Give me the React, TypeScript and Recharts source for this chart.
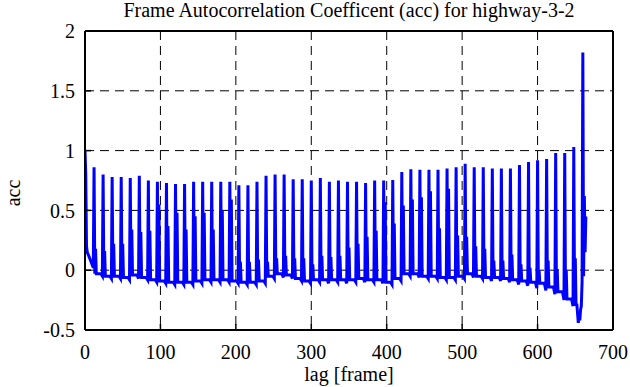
import React from "react";
import { LineChart, Line, XAxis, YAxis, CartesianGrid } from "recharts";

const TITLE = "Frame Autocorrelation Coefficent (acc) for highway-3-2";
const X_LABEL = "lag [frame]";
const Y_LABEL = "acc";

const X_TICKS = [0, 100, 200, 300, 400, 500, 600, 700];
const Y_TICKS = [-0.5, 0, 0.5, 1, 1.5, 2];

// the acc peaks every 12 frames (GOP length)
const PERIOD = 12;

// lags 0..11, before the first periodic peak
const HEAD_LAG = [0, 1, 2, 3, 5, 8, 11];
const HEAD_ACC = [1.0, 0.8, 0.2, 0.15, 0.12, 0.07, 0.02];

// peak value at lag 12, 24, ... 636
const SPIKE_ACC = [
  0.86, 0.8, 0.78, 0.78, 0.77, 0.79, 0.75, 0.74, 0.73, 0.72,
  0.72, 0.74, 0.74, 0.74, 0.74, 0.74, 0.71, 0.71, 0.74, 0.79,
  0.8, 0.8, 0.76, 0.76, 0.75, 0.77, 0.74, 0.75, 0.74, 0.74,
  0.73, 0.75, 0.75, 0.755, 0.82, 0.845, 0.84, 0.84, 0.84, 0.85,
  0.86, 0.89, 0.86, 0.86, 0.85, 0.85, 0.85, 0.88, 0.905, 0.92,
  0.93, 0.98, 0.98,
];

// smaller echo peak two frames after each main peak
const ECHO_ACC = [
  0.18, 0.16, 0.22, 0.22, 0.34, 0.32, 0.33, 0.55, 0.37, 0.48,
  0.34, 0.45, 0.48, 0.34, 0.5, 0.59, 0.07, 0.07, 0.09, 0.07,
  0.1, 0.12, 0.1, 0.1, 0.05, 0.12, 0.11, 0.12, 0.19, 0.22,
  0.28, 0.33, 0.57, 0.39, 0.54, 0.59, 0.61, 0.66, 0.35, 0.68,
  0.29, 0.28, 0.2, 0.18, 0.08, 0.08, 0.13, 0.05, 0.02, 0.0,
  0.08, 0.01, 0.0,
];

// baseline level between peaks
const FLOOR_ACC = [
  -0.03, -0.05, -0.05, -0.06, -0.04, -0.06, -0.08, -0.09, -0.1, -0.1,
  -0.1, -0.09, -0.08, -0.08, -0.08, -0.09, -0.1, -0.1, -0.09, -0.05,
  -0.03, -0.04, -0.07, -0.09, -0.08, -0.08, -0.08, -0.08, -0.08, -0.07,
  -0.08, -0.08, -0.1, -0.07, -0.03, -0.03, -0.05, -0.05, -0.06, -0.06,
  -0.05, -0.03, -0.05, -0.06, -0.06, -0.07, -0.08, -0.09, -0.1, -0.11,
  -0.14, -0.18, -0.24,
];

// small dip just before each next peak
const DIP_ACC = [
  -0.05, -0.07, -0.07, -0.08, -0.07, -0.08, -0.1, -0.11, -0.12, -0.12,
  -0.12, -0.11, -0.1, -0.1, -0.1, -0.11, -0.12, -0.12, -0.11, -0.07,
  -0.06, -0.07, -0.09, -0.11, -0.1, -0.11, -0.1, -0.11, -0.1, -0.1,
  -0.1, -0.11, -0.12, -0.09, -0.05, -0.06, -0.07, -0.07, -0.08, -0.08,
  -0.07, -0.06, -0.07, -0.09, -0.09, -0.1, -0.12, -0.13, -0.15, -0.17,
  -0.2, -0.25, -0.3,
];

// last stretch, 648..664
const TAIL_LAG = [648, 649, 650, 651, 652, 653, 654, 655, 656, 657, 658, 659, 660, 661, 662, 663, 664];
const TAIL_ACC = [1.03, -0.22, 0.1, -0.3, -0.28, -0.36, -0.44, -0.38, -0.42, -0.33, -0.3, -0.1, 1.82, -0.05, 0.62, 0.15, 0.45];

const series: { lag: number; acc: number }[] = [];
HEAD_LAG.forEach((lag, i) => series.push({ lag, acc: HEAD_ACC[i] }));
SPIKE_ACC.forEach((peak, i) => {
  const start = (i + 1) * PERIOD;
  series.push({ lag: start, acc: peak });
  series.push({ lag: start + 1, acc: FLOOR_ACC[i] });
  series.push({ lag: start + 2, acc: ECHO_ACC[i] });
  series.push({ lag: start + 3, acc: FLOOR_ACC[i] });
  series.push({ lag: start + 9, acc: FLOOR_ACC[i] });
  series.push({ lag: start + 11, acc: DIP_ACC[i] });
});
TAIL_LAG.forEach((lag, i) => series.push({ lag, acc: TAIL_ACC[i] }));

const font = "Liberation Serif, Nimbus Roman, Times, DejaVu Serif, serif";
const frame = { stroke: "#000", strokeWidth: 2 };
const tickLine = { stroke: "#000", strokeWidth: 1.5 };
const tickText = { fill: "#000", fontSize: 20, fontFamily: font };

export default function App() {
  return (
    <div
      style={{
        position: "absolute",
        left: 0,
        top: 0,
        width: 630,
        height: 387,
        background: "#fff",
        fontFamily: font,
        color: "#000",
      }}
    >
      <div style={{ position: "absolute", left: 85, top: 0, width: 528, textAlign: "center", fontSize: 20, lineHeight: "20px", whiteSpace: "nowrap" }}>
        {TITLE}
      </div>
      <LineChart width={630} height={387} data={series} margin={{ top: 0, right: 0, bottom: 0, left: 0 }}>
        <CartesianGrid stroke="#000" strokeDasharray="9 6" />
        <XAxis
          dataKey="lag"
          type="number"
          domain={[0, 700]}
          ticks={X_TICKS}
          interval={0}
          height={57}
          tickSize={-6}
          tickMargin={21}
          axisLine={frame}
          tickLine={tickLine}
          tick={tickText}
          allowDataOverflow
        />
        <XAxis
          xAxisId="top"
          orientation="top"
          type="number"
          domain={[0, 700]}
          ticks={X_TICKS}
          interval={0}
          height={31}
          tickSize={-6}
          axisLine={frame}
          tickLine={tickLine}
          tick={false}
          allowDataOverflow
        />
        <YAxis
          type="number"
          domain={[-0.5, 2]}
          ticks={Y_TICKS}
          interval={0}
          width={85}
          tickSize={-6}
          tickMargin={16}
          axisLine={frame}
          tickLine={tickLine}
          tick={tickText}
          allowDataOverflow
        />
        <YAxis
          yAxisId="right"
          orientation="right"
          type="number"
          domain={[-0.5, 2]}
          ticks={Y_TICKS}
          interval={0}
          width={17}
          tickSize={-6}
          axisLine={frame}
          tickLine={tickLine}
          tick={false}
          allowDataOverflow
        />
        <Line
          type="linear"
          dataKey="acc"
          stroke="#0000ff"
          strokeWidth={3}
          dot={false}
          activeDot={false}
          isAnimationActive={false}
        />
      </LineChart>
      <div style={{ position: "absolute", left: 85, top: 364, width: 528, textAlign: "center", fontSize: 20, lineHeight: "20px" }}>
        {X_LABEL}
      </div>
      <div
        style={{
          position: "absolute",
          left: -17,
          top: 183,
          width: 60,
          height: 20,
          textAlign: "center",
          fontSize: 20,
          lineHeight: "20px",
          transform: "rotate(-90deg)",
        }}
      >
        {Y_LABEL}
      </div>
    </div>
  );
}
